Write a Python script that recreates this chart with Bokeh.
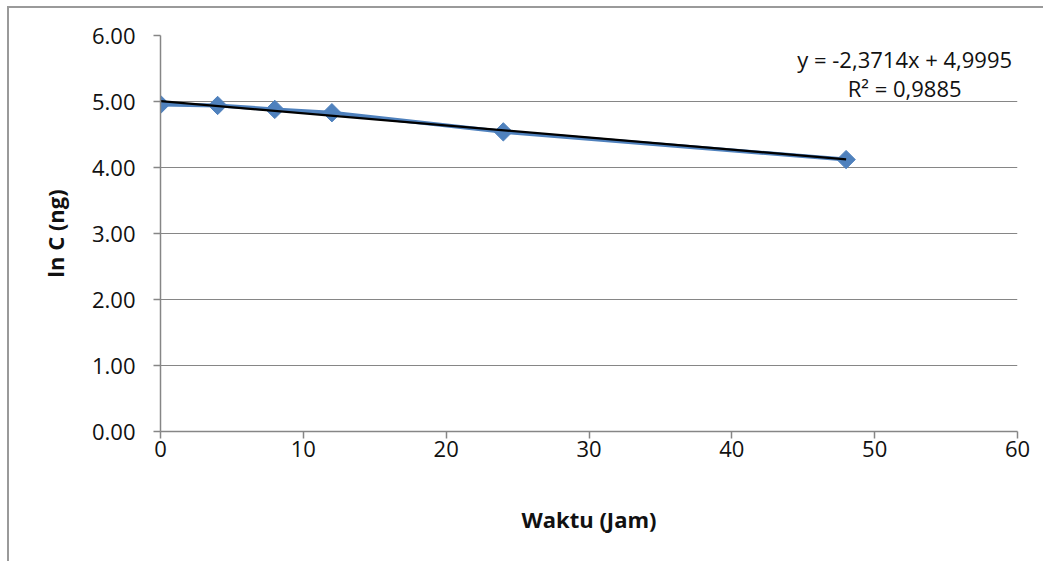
import numpy as np
from bokeh.plotting import figure
from bokeh.models import Label, FixedTicker, NumeralTickFormatter, Range1d
from bokeh.embed import file_html
from bokeh.resources import INLINE

# data
waktu = [0, 4, 8, 12, 24, 48]
ln_c = [4.955, 4.94, 4.88, 4.83, 4.54, 4.12]
x_ticks = [0, 10, 20, 30, 40, 50, 60]
y_ticks = [0, 1, 2, 3, 4, 5, 6]
eq_text = "y = -2,3714x + 4,9995"
r2_text = "R² = 0,9885"

FONT = "Open Sans"
GRID = "#868686"
BLUE = "#4F81BD"

p = figure(width=1036, height=555, output_backend="svg", toolbar_location=None,
           x_range=Range1d(0, 60), y_range=Range1d(0, 6),
           min_border_left=151, min_border_right=28, min_border_top=27, min_border_bottom=132)
p.outline_line_color = None
p.background_fill_color = "white"
p.styles = {"border-left": "2px solid #9a9a9a", "border-top": "2px solid #9a9a9a",
            "margin-left": "7px", "margin-top": "6px"}

# grid
p.xgrid.visible = False
p.ygrid.ticker = FixedTicker(ticks=y_ticks)
p.ygrid.grid_line_color = GRID
p.ygrid.grid_line_width = 1.2

# axes
for ax in (p.xaxis[0], p.yaxis[0]):
    ax.axis_line_color = GRID
    ax.axis_line_width = 1.5
    ax.major_tick_line_color = GRID
    ax.major_tick_line_width = 1.5
    ax.major_tick_in = 0
    ax.major_tick_out = 7
    ax.minor_tick_line_color = None
    ax.major_label_text_font = FONT
    ax.major_label_text_font_size = "22px"
    ax.major_label_text_color = "#111111"
    ax.axis_label_text_font = FONT
    ax.axis_label_text_font_size = "22px"
    ax.axis_label_text_font_style = "bold"
    ax.axis_label_text_color = "#111111"

p.xaxis.ticker = FixedTicker(ticks=x_ticks)
p.yaxis.ticker = FixedTicker(ticks=y_ticks)
p.yaxis.formatter = NumeralTickFormatter(format="0.00")
p.xaxis.major_label_standoff = 2
p.yaxis.major_label_standoff = 18
p.xaxis.axis_label = "Waktu (Jam)"
p.yaxis.axis_label = "ln C (ng)"
p.xaxis.axis_label_standoff = 44
p.yaxis.axis_label_standoff = 19

# series
p.line(waktu, ln_c, line_color=BLUE, line_width=4)
p.scatter(waktu, ln_c, marker="square", angle=np.pi / 4, size=13,
          fill_color=BLUE, line_color=BLUE)

# linear trend line from the data
slope, intercept = np.polyfit(waktu, ln_c, 1)
tx = [min(waktu), max(waktu)]
ty = [intercept + slope * v for v in tx]
p.line(tx, ty, line_color="black", line_width=2.2)

p.add_layout(Label(x=52.1, y=5.65, text=eq_text, text_align="center", text_baseline="middle",
                   text_font=FONT, text_font_size="22px", text_color="#111111"))
p.add_layout(Label(x=52.1, y=5.20, text=r2_text, text_align="center", text_baseline="middle",
                   text_font=FONT, text_font_size="22px", text_color="#111111"))

open("out.html", "w").write(file_html(p, INLINE))
